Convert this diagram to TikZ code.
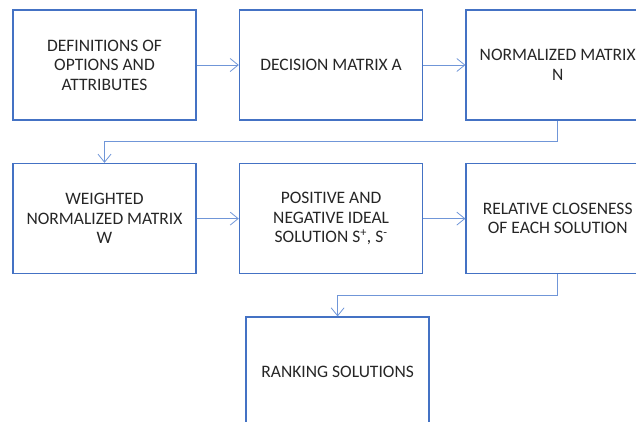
\documentclass[tikz,border=0pt]{standalone}
\usepackage{fontspec}
\setmainfont{Carlito}
\usepackage{tikz}
\usetikzlibrary{positioning, arrows.meta}
\definecolor{boxblue}{HTML}{4472C4}
\definecolor{lineblue}{HTML}{7096D8}
\definecolor{inkgray}{HTML}{262626}
\tikzstyle{stage} = [rectangle, minimum width=183pt, minimum height=110pt,
    text centered, align=center, draw=boxblue, line width=1.6pt,
    text=inkgray, font=\fontsize{17.5}{19.5}\selectfont]
\tikzstyle{flow} = [draw=lineblue, line width=0.8pt,
    -{Straight Barb[length=8pt, width=13pt]}]

\begin{document}
\begin{tikzpicture}[x=1pt, y=-1pt, node distance=42pt]
                \clip (0,0) rectangle (636,421);
                \node (defs) [stage] at (104.5,65) {DEFINITIONS OF\\OPTIONS AND\\ATTRIBUTES};
                \node (decision) [stage, right=of defs] {DECISION MATRIX A};
                \node (norm) [stage, right=of decision] {NORMALIZED MATRIX\\N};
                \node (weighted) [stage, below=of defs] {WEIGHTED\\NORMALIZED MATRIX\\W};
                \node (ideal) [stage, right=of weighted] {POSITIVE AND\\NEGATIVE IDEAL\\SOLUTION S\textsuperscript{+}, S\textsuperscript{-}};
                \node (close) [stage, right=of ideal] {RELATIVE CLOSENESS\\OF EACH SOLUTION};
                \node (rank) [stage, below=of ideal, xshift=6.5pt] {RANKING SOLUTIONS};

                \draw [flow] (defs) -- (decision);
                \draw [flow] (decision) -- (norm);
                \draw [flow] (norm.south) -- ++(0,21) -| (weighted.north);
                \draw [flow] (weighted) -- (ideal);
                \draw [flow] (ideal) -- (close);
                \draw [flow] (close.south) -- ++(0,21) -| (rank.north);
            \end{tikzpicture}
\end{document}
